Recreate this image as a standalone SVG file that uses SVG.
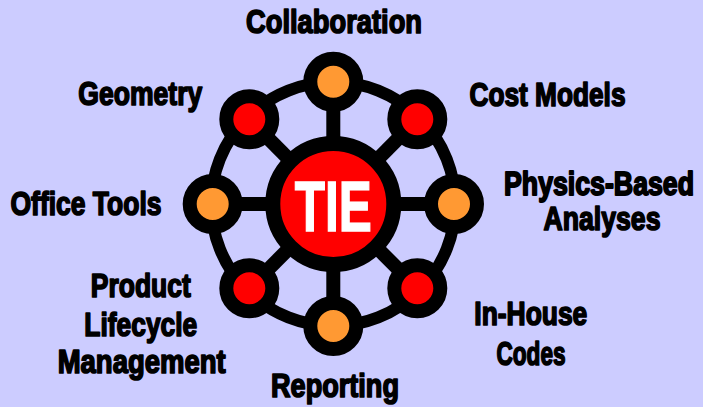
<svg xmlns="http://www.w3.org/2000/svg" width="703" height="407" viewBox="0 0 703 407">
  <style>
    .bg { fill: #ccccff; }
    .link { fill: none; stroke: #000; stroke-width: 14; }
    .ring { fill: none; stroke: #000; stroke-width: 12; }
    .hub { fill: #ff0000; stroke: #000; stroke-width: 15; }
    .node-red { fill: #ff0000; stroke: #000; stroke-width: 14; }
    .node-orange { fill: #ff9933; stroke: #000; stroke-width: 14; }
    .label { font-family: "Liberation Sans", "DejaVu Sans", Arial, sans-serif; font-weight: bold; font-size: 33px; fill: #000; stroke: #000; stroke-width: 1.7; stroke-linejoin: round; text-anchor: middle; }
    .label-tight { font-size: 29.5px; }
    .hub-label { font-family: "Liberation Sans", "DejaVu Sans", Arial, sans-serif; font-weight: bold; font-size: 70px; fill: #fff; stroke: #fff; stroke-width: 1.5; text-anchor: middle; }
  </style>

  <rect class="bg" x="0" y="0" width="703" height="407"/>

  <!-- connectors: outer ring and spokes -->
  <g id="connectors">
    <circle class="ring" cx="333.3" cy="204" r="122"/>
    <line class="link" x1="333.3" y1="204" x2="333.3" y2="82"/>
    <line class="link" x1="333.3" y1="204" x2="333.3" y2="326"/>
    <line class="link" x1="333.3" y1="204" x2="212.7" y2="204"/>
    <line class="link" x1="333.3" y1="204" x2="454" y2="204"/>
    <line class="link" x1="333.3" y1="204" x2="249.3" y2="119.3"/>
    <line class="link" x1="333.3" y1="204" x2="417.3" y2="119.3"/>
    <line class="link" x1="333.3" y1="204" x2="249.3" y2="288.3"/>
    <line class="link" x1="333.3" y1="204" x2="417.3" y2="288.3"/>
  </g>

  <g id="hub">
    <circle class="hub" cx="333.3" cy="204" r="60.5"/>
    <text class="hub-label" x="333.3" y="230.5" textLength="77" lengthAdjust="spacingAndGlyphs">TIE</text>
  </g>

  <g id="collaboration">
    <circle class="node-orange" cx="333.3" cy="81.7" r="23"/>
    <text class="label" x="334" y="33.3" textLength="176" lengthAdjust="spacingAndGlyphs">Collaboration</text>
  </g>

  <g id="cost-models">
    <circle class="node-red" cx="417.3" cy="119.3" r="23"/>
    <text class="label" x="547.5" y="106" textLength="156" lengthAdjust="spacingAndGlyphs">Cost Models</text>
  </g>

  <g id="physics-based-analyses">
    <circle class="node-orange" cx="454" cy="204" r="23"/>
    <!-- long first line: smaller size, stretched vertically to keep the cap height -->
    <text class="label label-tight" transform="translate(599 195) scale(1 1.1)" x="0" y="0" textLength="190" lengthAdjust="spacingAndGlyphs">Physics-Based</text>
    <text class="label" x="602" y="230" textLength="117" lengthAdjust="spacingAndGlyphs">Analyses</text>
  </g>

  <g id="in-house-codes">
    <circle class="node-red" cx="417.3" cy="288.3" r="23"/>
    <text class="label" x="530.8" y="325" textLength="113" lengthAdjust="spacingAndGlyphs">In-House</text>
    <text class="label" x="531" y="365" textLength="69" lengthAdjust="spacingAndGlyphs">Codes</text>
  </g>

  <g id="reporting">
    <circle class="node-orange" cx="333.3" cy="326" r="23"/>
    <text class="label" x="335" y="397.3" textLength="128" lengthAdjust="spacingAndGlyphs">Reporting</text>
  </g>

  <g id="product-lifecycle-management">
    <circle class="node-red" cx="249.3" cy="288.3" r="23"/>
    <text class="label" x="140.8" y="296.7" textLength="100" lengthAdjust="spacingAndGlyphs">Product</text>
    <text class="label" x="140.8" y="336" textLength="113" lengthAdjust="spacingAndGlyphs">Lifecycle</text>
    <text class="label" x="141.7" y="372.5" textLength="168" lengthAdjust="spacingAndGlyphs">Management</text>
  </g>

  <g id="office-tools">
    <circle class="node-orange" cx="212.7" cy="204" r="23"/>
    <text class="label" x="86" y="215" textLength="151" lengthAdjust="spacingAndGlyphs">Office Tools</text>
  </g>

  <g id="geometry">
    <circle class="node-red" cx="249.3" cy="119.3" r="23"/>
    <text class="label" x="140.3" y="105" textLength="124" lengthAdjust="spacingAndGlyphs">Geometry</text>
  </g>
</svg>
